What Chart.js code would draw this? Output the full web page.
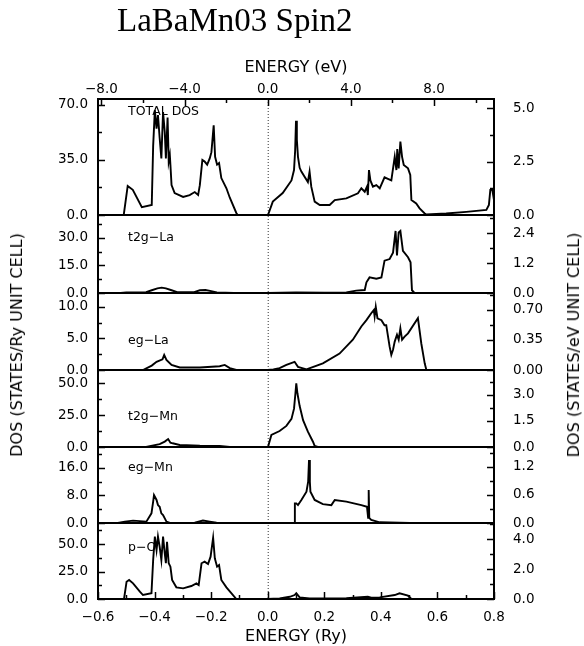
<!DOCTYPE html>
<html>
<head>
<meta charset="utf-8">
<title>LaBaMn03 Spin2 DOS</title>
<script src="https://cdn.jsdelivr.net/npm/chart.js@4.4.1/dist/chart.umd.min.js"></script>
<style>
    html, body { margin: 0; padding: 0; background: #fff; }
    #wrap { position: relative; width: 584px; height: 646px; overflow: hidden; }
    #dosChart { position: absolute; left: 0; top: 0; }
    .main-title {
        position: absolute; left: 117px; top: 4px;
        font: 33px/33px 'Liberation Serif', serif; color: #000; white-space: nowrap;
    }
    .side-title {
        position: absolute; font: 16px/16px 'DejaVu Sans', sans-serif; color: #000;
        white-space: nowrap; transform: translate(-50%, -50%) rotate(-90deg);
    }
</style>
</head>
<body>
<div id="wrap">
    <canvas id="dosChart" width="584" height="646"></canvas>
    <div class="main-title">LaBaMn03 Spin2</div>
    <div class="side-title" style="left:17px; top:345px;">DOS (STATES/Ry UNIT CELL)</div>
    <div class="side-title" style="left:574px; top:345px;">DOS (STATES/eV UNIT CELL)</div>
</div>
<script>
// Conversion between the two energy units
const RY_TO_EV = 13.6057;

// Panel names, top to bottom
const panelNames = ['TOTAL DOS', 't2g\u2212La', 'eg\u2212La', 't2g\u2212Mn', 'eg\u2212Mn', 'p\u2212O'];

// Upper limit of each panel (states/Ry)
const panelMax = [73.8, 42.5, 12.2, 60.2, 22.1, 69.1];

// Labelled tick step on the left (states/Ry) and right (states/eV) axes
const leftSteps = [35, 15, 5, 25, 8, 25];
const rightSteps = [2.5, 1.2, 0.35, 1.5, 0.6, 2.0];
const rightDigits = [1, 1, 2, 1, 1, 1];

// Bottom axis (Ry) and top axis (eV) tick values
const ryTicks = [-0.6, -0.5, -0.4, -0.3, -0.2, -0.1, 0.0, 0.1, 0.2, 0.3, 0.4, 0.5, 0.6, 0.7, 0.8];
const ryLabels = [-0.6, -0.4, -0.2, 0.0, 0.2, 0.4, 0.6, 0.8];
const evTicks = [-8, -6, -4, -2, 0, 2, 4, 6, 8, 10];
const evLabels = [-8, -4, 0, 4, 8];

// DOS curves: [energy (Ry), states/Ry]
const totalDos = [[-0.6,0],[-0.509,0],[-0.495,18.5],[-0.477,16],[-0.445,5],[-0.41,6.4],[-0.405,44],[-0.399,66.8],
    [-0.393,55],[-0.388,63.6],[-0.382,49],[-0.376,36],[-0.37,65.5],[-0.364,53],[-0.36,36],[-0.354,62],[-0.35,34],
    [-0.346,38],[-0.344,32],[-0.34,19],[-0.329,14],[-0.299,11.5],[-0.276,12.7],[-0.258,14.6],[-0.246,12.7],[-0.24,19],
    [-0.231,35],[-0.223,34],[-0.214,32],[-0.205,36],[-0.199,40],[-0.191,57],[-0.186,37],[-0.179,32],[-0.172,33],
    [-0.164,23.5],[-0.146,17],[-0.134,11],[-0.111,1.3],[-0.106,0],[0.001,0],[0.018,8.5],[0.053,14],[0.084,22],
    [0.093,28.6],[0.097,41],[0.1,60],[0.103,48],[0.107,37],[0.113,30],[0.119,27.6],[0.142,21],[0.148,27.6],[0.154,18],
    [0.166,8.5],[0.184,6.4],[0.219,6.4],[0.237,9.5],[0.278,10.6],[0.319,13.8],[0.331,17],[0.343,14.8],[0.351,18],
    [0.354,12.7],[0.358,28.6],[0.363,22],[0.372,18],[0.384,19],[0.396,17],[0.413,24],[0.425,23],[0.437,22],[0.449,37],
    [0.455,28.6],[0.458,42],[0.463,29.7],[0.469,46.7],[0.475,37],[0.481,31.8],[0.496,29.7],[0.504,25.5],[0.508,9.5],
    [0.525,7.4],[0.537,4.2],[0.555,1],[0.561,0.3],[0.631,1],[0.702,2],[0.773,3.2],[0.782,6.4],[0.787,16],[0.794,16],[0.8,9.5]];

const t2gLa = [[-0.6,0],[-0.52,0],[-0.5,0.3],[-0.43,0.5],[-0.41,1.5],[-0.39,2.5],[-0.375,2.9],[-0.36,2.5],[-0.34,1.5],
    [-0.32,0.5],[-0.26,0.5],[-0.24,1.5],[-0.22,1.6],[-0.2,1.0],[-0.18,0.3],[-0.12,0],[0,0],[0.1,0.3],[0.2,0.2],
    [0.278,0.3],[0.313,1.3],[0.343,1.6],[0.349,5.8],[0.36,8.5],[0.384,7.8],[0.402,8.5],[0.413,17.6],[0.431,18.5],
    [0.443,22],[0.452,33.8],[0.457,20.5],[0.463,33],[0.469,33.8],[0.478,23],[0.496,19.5],[0.505,16.7],[0.51,1.5],
    [0.519,0],[0.8,0]];

const egLa = [[-0.6,0],[-0.441,0],[-0.41,0.7],[-0.393,1.3],[-0.372,1.7],[-0.366,2.4],[-0.358,1.6],[-0.34,0.8],
    [-0.311,0.4],[-0.24,0.4],[-0.17,0.6],[-0.152,0.8],[-0.134,0.3],[-0.111,0],[0,0],[0.02,0.1],[0.042,0.3],
    [0.066,0.8],[0.095,1.3],[0.107,0.5],[0.137,0.1],[0.195,1.06],[0.254,2.6],[0.301,4.8],[0.331,6.9],[0.349,7.9],
    [0.366,9.0],[0.375,9.5],[0.378,8.5],[0.382,10.0],[0.388,8.2],[0.402,7.9],[0.413,7.1],[0.419,7.1],[0.431,3.7],
    [0.437,2.4],[0.443,3.2],[0.449,4.5],[0.457,5.6],[0.463,4.8],[0.469,6.6],[0.475,4.8],[0.484,5.3],[0.496,5.8],
    [0.531,8.2],[0.543,4.2],[0.555,1.06],[0.561,0],[0.8,0]];

const t2gMn = [[-0.6,0],[-0.43,0],[-0.382,2.3],[-0.364,4.2],[-0.352,6.2],[-0.344,3.4],[-0.336,2.9],[-0.311,1.6],
    [-0.24,1.0],[-0.17,0.8],[-0.134,0],[0.001,0],[0.013,9.4],[0.042,12.5],[0.066,16.5],[0.084,22],[0.093,30],
    [0.098,42],[0.101,49.8],[0.105,42],[0.113,32],[0.125,21],[0.142,12],[0.16,4.1],[0.166,0.8],[0.177,0],[0.8,0]];

const egMn = [[-0.6,0],[-0.53,0],[-0.505,0.4],[-0.476,0.7],[-0.429,0.4],[-0.411,2.8],[-0.405,6.2],[-0.402,8.1],
    [-0.393,6.7],[-0.388,5.2],[-0.382,4.7],[-0.376,2.8],[-0.37,2.3],[-0.358,0.4],[-0.346,0],[-0.258,0.1],[-0.229,0.7],
    [-0.205,0.4],[-0.181,0.1],[-0.16,0],[0.093,0],[0.096,5.7],[0.101,5.7],[0.107,5.2],[0.119,6.7],[0.137,9.1],
    [0.143,12],[0.146,18.3],[0.149,12],[0.151,9.1],[0.166,6.7],[0.195,5.5],[0.225,5.2],[0.237,6.7],[0.278,6.2],
    [0.331,5.2],[0.351,4.7],[0.355,1.5],[0.357,9.6],[0.359,1.5],[0.366,0.9],[0.396,0.2],[0.466,0.1],[0.502,0],[0.8,0]];

const pO = [[-0.6,0],[-0.508,0],[-0.499,15.7],[-0.49,17.3],[-0.476,14.2],[-0.452,6.7],[-0.441,3.6],[-0.411,5.2],
    [-0.405,35.5],[-0.399,56.7],[-0.393,44.5],[-0.388,56.7],[-0.382,47.5],[-0.376,35.5],[-0.37,56.7],[-0.364,41.5],
    [-0.36,32.5],[-0.356,52],[-0.35,32.5],[-0.344,29.4],[-0.338,17.3],[-0.323,10.6],[-0.299,9.7],[-0.27,11.8],
    [-0.252,14.2],[-0.244,12.7],[-0.234,32.5],[-0.223,33.9],[-0.211,31.8],[-0.202,38.5],[-0.193,55.7],[-0.187,37],
    [-0.179,29.4],[-0.172,30.9],[-0.164,17.3],[-0.146,10.6],[-0.128,5.2],[-0.111,0],[0,0],[0.02,0.2],[0.042,0.5],
    [0.078,2],[0.095,3.6],[0.101,5.2],[0.113,1.5],[0.148,0.6],[0.278,0.8],[0.354,2],[0.366,1.2],[0.396,1.5],
    [0.449,3.6],[0.466,5.2],[0.496,3],[0.508,0],[0.8,0]];

const panelData = [totalDos, t2gLa, egLa, t2gMn, egMn, pO];

// Layout: pixel height of each panel (used as stack weights) and where each label sits (data units)
const panelHeights = [116, 78, 77, 77, 76, 76];
const labelLevels = [66, 30, 4.6, 23.5, 16, 47];

function fmt(v, digits) {
    return v.toFixed(digits).replace('-', '\u2212');
}

// Ticks every half step, the even ones carry a label
function halfStepTicks(max, step) {
    const out = [];
    for (let k = 0; k * step / 2 <= max + 1e-9; k++) {
        out.push({ value: k * step / 2, long: k % 2 === 0 });
    }
    return out;
}

function isIn(list, v) {
    return list.some(x => Math.abs(x - v) < 1e-9);
}

// Inward tick marks, dotted Fermi line, panel separators and panel names
const dosDecor = {
    id: 'dosDecor',
    beforeDatasetsDraw(chart) {
        const ctx = chart.ctx;
        const area = chart.chartArea;
        ctx.save();
        // dotted line at E = 0
        const x0 = chart.scales.x.getPixelForValue(0);
        ctx.strokeStyle = '#333';
        ctx.lineWidth = 1;
        ctx.setLineDash([1, 2]);
        ctx.beginPath();
        ctx.moveTo(x0 + 0.5, area.top);
        ctx.lineTo(x0 + 0.5, area.bottom);
        ctx.stroke();
        ctx.setLineDash([]);
        // panel names
        ctx.fillStyle = '#000';
        ctx.font = "12.5px 'DejaVu Sans', sans-serif";
        ctx.textAlign = 'left';
        ctx.textBaseline = 'middle';
        panelNames.forEach((name, i) => {
            const y = chart.scales['y' + i].getPixelForValue(labelLevels[i]);
            ctx.fillText(name, area.left + 30, y);
        });
        ctx.restore();
    },
    afterDraw(chart) {
        const ctx = chart.ctx;
        const area = chart.chartArea;
        ctx.save();
        ctx.strokeStyle = '#000';
        // separators between panels
        ctx.lineWidth = 2;
        for (let i = 0; i < panelNames.length - 1; i++) {
            const y = Math.round(chart.scales['y' + i].getPixelForValue(0));
            ctx.beginPath();
            ctx.moveTo(area.left, y);
            ctx.lineTo(area.right, y);
            ctx.stroke();
        }
        // tick marks pointing into the plot
        ctx.lineWidth = 1.5;
        Object.values(chart.scales).forEach(scale => {
            scale.ticks.forEach(t => {
                const len = t.long ? 7 : 4;
                const p = Math.round(scale.getPixelForValue(t.value)) + 0.5;
                ctx.beginPath();
                if (scale.position === 'left') {
                    ctx.moveTo(area.left, p); ctx.lineTo(area.left + len, p);
                } else if (scale.position === 'right') {
                    ctx.moveTo(area.right, p); ctx.lineTo(area.right - len, p);
                } else if (scale.position === 'top') {
                    ctx.moveTo(p, area.top); ctx.lineTo(p, area.top + len);
                } else {
                    ctx.moveTo(p, area.bottom); ctx.lineTo(p, area.bottom - len);
                }
                ctx.stroke();
            });
        });
        ctx.restore();
    }
};

Chart.defaults.font.family = "'DejaVu Sans', sans-serif";
Chart.defaults.font.size = 13.5;
Chart.defaults.color = '#000';

const axisBorder = { display: true, color: '#000', width: 2 };
const noGrid = { display: false, drawTicks: false };

const scales = {
    x: {
        type: 'linear',
        position: 'bottom',
        min: -0.6,
        max: 0.8,
        grid: noGrid,
        border: axisBorder,
        afterBuildTicks: s => { s.ticks = ryTicks.map(v => ({ value: v, long: isIn(ryLabels, v) })); },
        afterFit: s => { s.height = 47; },
        ticks: {
            autoSkip: false,
            padding: 10,
            maxRotation: 0,
            callback: (v) => isIn(ryLabels, v) ? fmt(v, 1) : ''
        },
        title: { display: true, text: 'ENERGY (Ry)', font: { size: 16 }, padding: { top: 0, bottom: 0 } }
    },
    xEv: {
        type: 'linear',
        position: 'top',
        min: -0.6 * RY_TO_EV,
        max: 0.8 * RY_TO_EV,
        grid: noGrid,
        border: axisBorder,
        afterBuildTicks: s => { s.ticks = evTicks.map(v => ({ value: v, long: isIn(evLabels, v) })); },
        afterFit: s => { s.height = 99; },
        ticks: {
            autoSkip: false,
            padding: 1,
            maxRotation: 0,
            callback: (v) => isIn(evLabels, v) ? fmt(v, 1) : ''
        },
        title: { display: true, text: 'ENERGY (eV)', font: { size: 16 }, padding: { top: 58, bottom: 0 } }
    }
};

panelNames.forEach((name, i) => {
    scales['y' + i] = {
        type: 'linear',
        position: 'left',
        stack: 'dosRy',
        stackWeight: panelHeights[i],
        weight: 10 - i,
        min: 0,
        max: panelMax[i],
        grid: noGrid,
        border: axisBorder,
        afterBuildTicks: s => { s.ticks = halfStepTicks(panelMax[i], leftSteps[i]); },
        afterFit: s => { s.width = 98; },
        ticks: {
            autoSkip: false,
            padding: 10,
            callback: (v, idx, ticks) => ticks[idx].long ? fmt(v, 1) : ''
        }
    };
    scales['e' + i] = {
        type: 'linear',
        position: 'right',
        stack: 'dosEv',
        stackWeight: panelHeights[i],
        weight: i,
        min: 0,
        max: panelMax[i] / RY_TO_EV,
        grid: noGrid,
        border: axisBorder,
        afterBuildTicks: s => { s.ticks = halfStepTicks(panelMax[i] / RY_TO_EV, rightSteps[i]); },
        afterFit: s => { s.width = 90; },
        ticks: {
            autoSkip: false,
            padding: 19,
            callback: (v, idx, ticks) => ticks[idx].long ? fmt(v, rightDigits[i]) : ''
        }
    };
});

const datasets = panelData.map((points, i) => ({
    label: panelNames[i],
    data: points.map(([e, d]) => ({ x: e, y: d })),
    xAxisID: 'x',
    yAxisID: 'y' + i,
    borderColor: '#000',
    borderWidth: 1.9,
    pointRadius: 0,
    tension: 0,
    fill: false
}));

const ctx = document.getElementById('dosChart').getContext('2d');
new Chart(ctx, {
    type: 'line',
    data: { datasets },
    options: {
        responsive: false,
        animation: false,
        events: [],
        layout: { padding: 0 },
        plugins: {
            legend: { display: false },
            tooltip: { enabled: false },
            title: { display: false }
        },
        scales
    },
    plugins: [dosDecor]
});
</script>
</body>
</html>
